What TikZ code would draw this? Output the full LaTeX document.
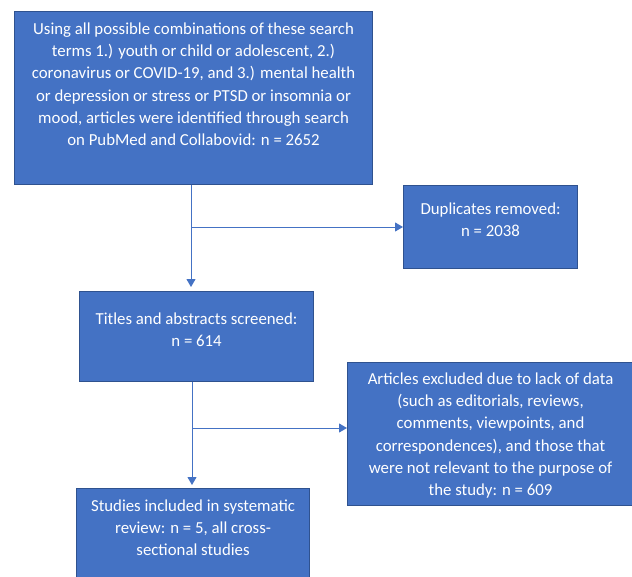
\documentclass[tikz,border=0pt]{standalone}
\usepackage{fontspec}
\setmainfont{Carlito}
\usetikzlibrary{arrows.meta}
\definecolor{boxfill}{HTML}{4472C4}
\definecolor{boxline}{HTML}{2F528F}
\newcommand\flowtext[4]{\begin{minipage}[c][#2][t]{#1}\centering\vspace*{#3}\strut #4\end{minipage}}
\begin{document}
\begin{tikzpicture}[x=1pt,y=-1pt,
  box/.style={draw=boxline, line width=1.1pt, fill=boxfill, text=white, inner sep=0pt, anchor=north west, font=\fontsize{16.8pt}{22.2pt}\selectfont},
  link/.style={draw=boxfill, line width=1pt},
  arr/.style={link, -{Triangle[length=8pt,width=9pt]}}]
\useasboundingbox (0,0) rectangle (632,576);
\clip (0,0) rectangle (632,576);

\node[box] (b1) at (14,11) {\flowtext{358pt}{173pt}{7.5pt}{Using all possible combinations of these search\\ terms 1.) youth or child or adolescent, 2.)\\ coronavirus or COVID-19, and 3.) mental health\\ or depression or stress or PTSD or insomnia or\\ mood, articles were identified through search\\ on PubMed and Collabovid: n = 2652}};

\node[box] (dup) at (403,185) {\flowtext{174pt}{83pt}{13.2pt}{Duplicates removed:\\ n = 2038}};

\node[box] (titles) at (79,291) {\flowtext{234pt}{90pt}{17.5pt}{Titles and abstracts screened:\\ n = 614}};

\node[box] (excl) at (347,362) {\flowtext{286pt}{143pt}{6.5pt}{Articles excluded due to lack of data\\ (such as editorials, reviews,\\ comments, viewpoints, and\\ correspondences), and those that\\ were not relevant to the purpose of\\ the study: n = 609}};

\node[box] (studies) at (76,488) {\flowtext{233pt}{95pt}{7.2pt}{Studies included in systematic\\ review: n = 5, all cross-\\ sectional studies}};

\coordinate (j1) at (191,227);
\coordinate (j2) at (192,428);

\draw[arr, shorten >=4pt] (b1.south -| j1) -- (titles.north -| j1);
\draw[arr] (j1) -- (dup.west |- j1);
\draw[arr, shorten >=3pt] (titles.south -| j2) -- (studies.north -| j2);
\draw[arr] (j2) -- (excl.west |- j2);
\end{tikzpicture}
\end{document}
